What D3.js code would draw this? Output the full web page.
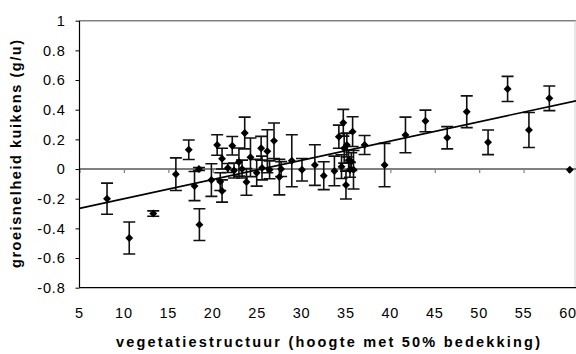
<!DOCTYPE html>
<html>
<head>
<meta charset="utf-8">
<script src="https://cdn.jsdelivr.net/npm/d3@7"></script>
<style>
  html, body { margin: 0; padding: 0; background: #fff; }
  svg { display: block; }
  text { font-family: "Liberation Sans", Arial, sans-serif; fill: #000; }
</style>
</head>
<body>
<svg id="chart" width="576" height="354"></svg>
<script>
// Vegetation structure (height at 50% cover) per site
const structure = [8.1, 10.6, 13.3, 15.85, 17.3, 17.95, 18.45, 18.5, 19.85, 20.5,
  20.85, 21.05, 21.05, 21.7, 22.2, 22.4, 22.95, 23.3, 23.6, 23.8,
  24.25, 24.95, 25.45, 25.55, 26.15, 26.4, 26.9, 27.5, 27.7, 28.9,
  30.05, 31.5, 32.5, 33.7, 34.2, 34.5, 34.7, 34.8, 35.0, 35.1,
  35.3, 35.45, 35.6, 35.75, 35.85, 37.1, 39.35, 41.7, 43.95, 46.4,
  48.6, 51.0, 53.2, 55.6, 57.9, 60.2];
// Chick growth rate (g/h)
const growth = [-0.20, -0.465, -0.30, -0.035, 0.13, -0.115, 0.0, -0.375, -0.074, 0.162,
  -0.085, -0.148, 0.07, 0.007, 0.157, -0.01, 0.047, 0.0, 0.243, -0.087,
  0.079, -0.025, 0.14, 0.007, 0.12, -0.005, 0.19, -0.054, 0.0, 0.056,
  -0.005, 0.027, -0.045, -0.013, 0.218, 0.016, 0.312, 0.14, -0.108, 0.162,
  0.06, -0.005, 0.05, 0.252, -0.005, 0.162, 0.027, 0.23, 0.324, 0.211,
  0.386, 0.18, 0.54, 0.263, 0.477, -0.005];
// Standard error of the growth rate
const growthErr = [0.105, 0.108, 0.018, 0.11, 0.066, 0.098, 0.01, 0.107, 0.11, 0.069,
  0.06, 0.075, 0.07, 0.03, 0.062, 0.05, 0.095, 0.06, 0.107, 0.09,
  0.13, 0.09, 0.08, 0.08, 0.145, 0.06, 0.12, 0.12, 0.05, 0.175,
  0.076, 0.137, 0.094, 0.1, 0.078, 0.08, 0.09, 0.1, 0.094, 0.08,
  0.07, 0.05, 0.06, 0.1, 0.13, 0.064, 0.146, 0.12, 0.073, 0.075,
  0.107, 0.083, 0.085, 0.118, 0.083, 0];
// Linear trend: intercept, slope
const trend = [-0.33, 0.01297];
const xTicks = [5, 10, 15, 20, 25, 30, 35, 40, 45, 50, 55, 60];
const yTicks = [-0.8, -0.6, -0.4, -0.2, 0, 0.2, 0.4, 0.6, 0.8, 1];

const svg = d3.select("#chart");
const plotL = 79.5, plotR = 576, plotT = 20.7, plotB = 287.7;

const x = d3.scaleLinear().domain([5, 60.9]).range([plotL, plotR]);
const y = d3.scaleLinear().domain([-0.8, 1]).range([plotB, plotT]);

// plot frame: grey top/right, black bottom
svg.append("line").attr("x1", plotL).attr("x2", plotR).attr("y1", plotT).attr("y2", plotT)
  .attr("stroke", "#808080").attr("stroke-width", 1.5);
svg.append("line").attr("x1", plotR - 1).attr("x2", plotR - 1).attr("y1", plotT).attr("y2", plotB)
  .attr("stroke", "#d0d0d0").attr("stroke-width", 1);
svg.append("line").attr("x1", plotL).attr("x2", plotR).attr("y1", plotB).attr("y2", plotB)
  .attr("stroke", "#000").attr("stroke-width", 1.2);

// horizontal axis crossing at zero with downward ticks
const zeroAxis = svg.append("g").attr("transform", `translate(0,${y(0)})`)
  .call(d3.axisBottom(x).tickValues(xTicks).tickSize(4).tickFormat(""));
zeroAxis.select(".domain").attr("stroke", "#808080").attr("stroke-width", 2)
  .attr("d", `M${plotL},0H${plotR}`);
zeroAxis.selectAll(".tick line").attr("stroke", "#808080").attr("stroke-width", 1.2);

// x tick labels along the bottom
svg.append("g").selectAll("text").data(xTicks).join("text")
  .attr("x", d => x(d)).attr("y", 318)
  .attr("text-anchor", "middle").attr("font-size", 14.5).attr("letter-spacing", 0.8)
  .text(d => d);

// vertical axis
const yAxis = svg.append("g").attr("transform", `translate(${plotL},0)`)
  .call(d3.axisLeft(y).tickValues(yTicks).tickSize(4).tickPadding(10)
    .tickFormat(d => String(+d.toFixed(1))));
yAxis.select(".domain").attr("stroke", "#000").attr("stroke-width", 1.2)
  .attr("d", `M0,${plotT}V${plotB}`);
yAxis.selectAll(".tick line").attr("stroke", "#000");
yAxis.selectAll(".tick text").attr("font-size", 14.5).attr("letter-spacing", 0.8)
  .attr("font-family", "'Liberation Sans', Arial, sans-serif").attr("fill", "#000");

// points
const pts = structure.map((v, i) => ({ x: v, y: growth[i], e: growthErr[i] }));

// error bars
const eb = svg.append("g").attr("stroke", "#111").attr("stroke-width", 1.6).attr("fill", "none");
const cap = 6;
pts.filter(d => d.e > 0).forEach(d => {
  const px = x(d.x), y1 = y(d.y + d.e), y2 = y(d.y - d.e);
  eb.append("path").attr("d",
    `M${px},${y1}V${y2}M${px - cap},${y1}H${px + cap}M${px - cap},${y2}H${px + cap}`);
});

// trend line
const tx = x.domain();
svg.append("line")
  .attr("x1", x(tx[0])).attr("y1", y(trend[0] + trend[1] * tx[0]))
  .attr("x2", x(tx[1])).attr("y2", y(trend[0] + trend[1] * tx[1]))
  .attr("stroke", "#000").attr("stroke-width", 1.6);

// diamond markers
const diamond = d3.symbol().type(d3.symbolDiamond2).size(40);
svg.append("g").selectAll("path").data(pts).join("path")
  .attr("transform", d => `translate(${x(d.x)},${y(d.y)})`)
  .attr("d", diamond).attr("fill", "#000");

// axis titles
svg.append("text")
  .attr("x", 328).attr("y", 347)
  .attr("text-anchor", "middle").attr("font-size", 14.5).attr("font-weight", "bold")
  .attr("textLength", 424).attr("lengthAdjust", "spacing")
  .text("vegetatiestructuur (hoogte met 50% bedekking)");

svg.append("text")
  .attr("transform", "translate(21,154) rotate(-90)")
  .attr("text-anchor", "middle").attr("font-size", 14.5).attr("font-weight", "bold")
  .attr("textLength", 228).attr("lengthAdjust", "spacing")
  .text("groeisnelheid kuikens (g/u)");
</script>
</body>
</html>
